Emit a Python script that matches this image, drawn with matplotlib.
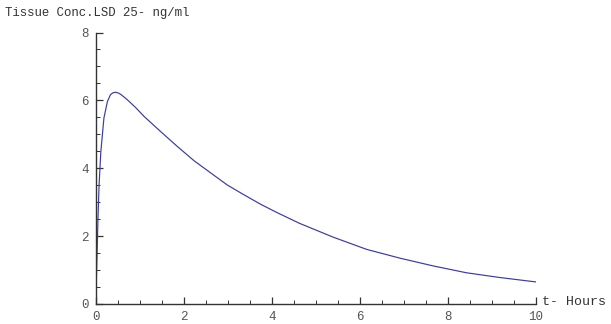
import numpy as np
from matplotlib import pyplot as plt

# values
t_hours = [0, 0.01, 0.03, 0.045, 0.07, 0.11, 0.18, 0.26, 0.33, 0.38, 0.45, 0.52, 0.58,
           0.71, 0.9, 1.09, 1.47, 1.85, 2.23, 2.61, 2.98, 3.36, 3.74, 4.12, 4.62, 5.39,
           6.15, 6.91, 7.67, 8.42, 9.18, 10]
conc = [0, 0.8, 1.74, 2.53, 3.51, 4.49, 5.48, 5.97, 6.17, 6.22, 6.24, 6.21, 6.16,
        6.02, 5.79, 5.53, 5.08, 4.64, 4.22, 3.86, 3.51, 3.22, 2.94, 2.69, 2.38, 1.97,
        1.61, 1.35, 1.12, 0.92, 0.78, 0.65]
xticks = [0, 2, 4, 6, 8, 10]
yticks = [0, 2, 4, 6, 8]

W, H = 611, 324
fig = plt.figure(figsize=(W / 100, H / 100), dpi=100)
ax = fig.add_axes([96 / W, 20 / H, 440 / W, 271.5 / H])

ax.plot(t_hours, conc, color='#3a3aa0', lw=0.85)
ax.set_xlim(0, 10)
ax.set_ylim(0, 8)

for s in ['top', 'right']:
    ax.spines[s].set_visible(False)
for s in ['left', 'bottom']:
    ax.spines[s].set_color('#333333')
    ax.spines[s].set_linewidth(1.0)

ax.set_xticks(xticks)
ax.set_yticks(yticks)
ax.set_xticks(np.arange(0, 10.01, 0.5), minor=True)
ax.set_yticks(np.arange(0, 8.01, 0.5), minor=True)
ax.tick_params(which='major', direction='in', length=5, width=0.9, color='#333333',
               labelsize=9, labelcolor='#555555', pad=5)
ax.tick_params(which='minor', direction='in', length=3, width=0.7, color='#333333')
for lab in ax.get_xticklabels() + ax.get_yticklabels():
    lab.set_family('Liberation Mono')

fig.text(5 / W, 1 - 16 / H, 'Tissue Conc.LSD 25- ng/ml', family='Liberation Mono',
         fontsize=8.9, color='#333333')
fig.text(542 / W, 1 - 305 / H, 't- Hours', family='Liberation Mono', fontsize=9.5,
         color='#333333')

fig.savefig('out.png', dpi=100)
